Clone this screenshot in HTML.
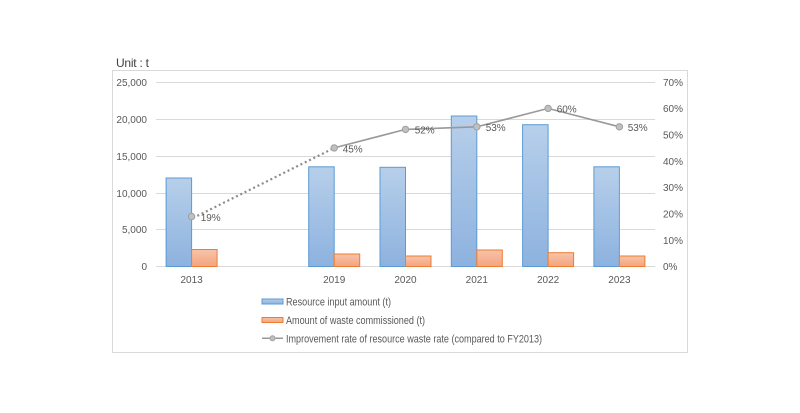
<!DOCTYPE html>
<html><head><meta charset="utf-8"><style>
html,body{margin:0;padding:0;background:#fff;}
svg{display:block;}
text{font-family:"Liberation Sans",sans-serif;fill:#595959;}
</style></head><body>
<svg width="800" height="413" viewBox="0 0 800 413" xmlns="http://www.w3.org/2000/svg">
<defs>
<linearGradient id="gb" x1="0" y1="0" x2="0" y2="1">
<stop offset="0" stop-color="#b7cfea"/><stop offset="1" stop-color="#8db2df"/>
</linearGradient>
<linearGradient id="go" x1="0" y1="0" x2="0" y2="1">
<stop offset="0" stop-color="#f8c3a8"/><stop offset="1" stop-color="#f3a47f"/>
</linearGradient>
</defs>
<rect width="800" height="413" fill="#fff"/>
<text x="116" y="67" font-size="12" style="fill:#404040" textLength="33">Unit : t</text>
<rect x="112.5" y="70.5" width="575" height="282" fill="#fff" stroke="#d9d9d9" stroke-width="1"/>
<!-- gridlines -->
<g stroke="#d9d9d9" stroke-width="1">
<line x1="156" y1="82.5" x2="655" y2="82.5"/>
<line x1="156" y1="119.5" x2="655" y2="119.5"/>
<line x1="156" y1="156.5" x2="655" y2="156.5"/>
<line x1="156" y1="193.5" x2="655" y2="193.5"/>
<line x1="156" y1="229.5" x2="655" y2="229.5"/>
<line x1="156" y1="266.5" x2="655" y2="266.5"/>
</g>
<!-- left axis labels -->
<g font-size="10" text-anchor="end">
<text x="147" y="86">25,000</text>
<text x="147" y="123">20,000</text>
<text x="147" y="160">15,000</text>
<text x="147" y="197">10,000</text>
<text x="147" y="233">5,000</text>
<text x="147" y="270">0</text>
</g>
<!-- right axis labels -->
<g font-size="10">
<text x="663" y="86">70%</text>
<text x="663" y="112">60%</text>
<text x="663" y="138.5">50%</text>
<text x="663" y="165">40%</text>
<text x="663" y="191">30%</text>
<text x="663" y="217.5">20%</text>
<text x="663" y="244">10%</text>
<text x="663" y="270">0%</text>
</g>
<!-- bars -->
<g stroke="#5b9bd5" stroke-width="1" fill="url(#gb)">
<rect x="166.1" y="178" width="25.5" height="88.5"/>
<rect x="308.7" y="166.8" width="25.5" height="99.7"/>
<rect x="380" y="167.3" width="25.5" height="99.2"/>
<rect x="451.3" y="116" width="25.5" height="150.5"/>
<rect x="522.6" y="124.7" width="25.5" height="141.8"/>
<rect x="593.9" y="166.8" width="25.5" height="99.7"/>
</g>
<g stroke="#ed7d31" stroke-width="1" fill="url(#go)">
<rect x="191.6" y="249.5" width="25.5" height="17"/>
<rect x="334.2" y="254" width="25.5" height="12.5"/>
<rect x="405.5" y="256" width="25.5" height="10.5"/>
<rect x="476.8" y="250" width="25.5" height="16.5"/>
<rect x="548.1" y="252.7" width="25.5" height="13.8"/>
<rect x="619.4" y="256" width="25.5" height="10.5"/>
</g>
<!-- x labels -->
<g font-size="10" text-anchor="middle">
<text x="191.6" y="283">2013</text>
<text x="334.2" y="283">2019</text>
<text x="405.5" y="283">2020</text>
<text x="476.8" y="283">2021</text>
<text x="548.1" y="283">2022</text>
<text x="619.4" y="283">2023</text>
</g>
<!-- line -->
<line x1="193" y1="218" x2="332" y2="149" stroke="#8c8c8c" stroke-width="2.2" stroke-dasharray="2 2.8"/>
<polyline points="334.2,147.9 405.5,129.4 476.8,126.8 548.1,108.4 619.4,126.8" fill="none" stroke="#999" stroke-width="1.6"/>
<g fill="#c0c0c0" stroke="#a0a0a0" stroke-width="1">
<circle cx="191.6" cy="216.5" r="3.2"/>
<circle cx="334.2" cy="147.9" r="3.2"/>
<circle cx="405.5" cy="129.4" r="3.2"/>
<circle cx="476.8" cy="126.8" r="3.2"/>
<circle cx="548.1" cy="108.4" r="3.2"/>
<circle cx="619.4" cy="126.8" r="3.2"/>
</g>
<g font-size="10">
<text x="200.7" y="221">19%</text>
<text x="342.7" y="152.5">45%</text>
<text x="414.7" y="133.5">52%</text>
<text x="485.7" y="131">53%</text>
<text x="556.7" y="112.5">60%</text>
<text x="627.7" y="131">53%</text>
</g>
<!-- legend -->
<rect x="262" y="299" width="21" height="5" fill="url(#gb)" stroke="#5b9bd5" stroke-width="1"/>
<rect x="262" y="317.5" width="21" height="5" fill="url(#go)" stroke="#ed7d31" stroke-width="1"/>
<line x1="262" y1="338.3" x2="283" y2="338.3" stroke="#999" stroke-width="1.5"/>
<circle cx="272.5" cy="338.3" r="2.5" fill="#c0c0c0" stroke="#a0a0a0" stroke-width="1"/>
<g font-size="11">
<text x="286" y="305.5" textLength="105" lengthAdjust="spacingAndGlyphs">Resource input amount (t)</text>
<text x="286" y="324" textLength="139" lengthAdjust="spacingAndGlyphs">Amount of waste commissioned (t)</text>
<text x="286" y="342.5" textLength="256" lengthAdjust="spacingAndGlyphs">Improvement rate of resource waste rate (compared to FY2013)</text>
</g>
</svg>
</body></html>
